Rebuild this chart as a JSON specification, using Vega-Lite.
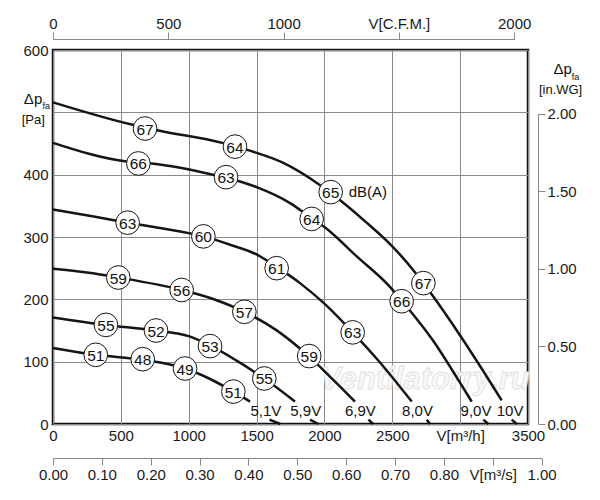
{
  "$schema": "https://vega.github.io/schema/vega-lite/v6.json",
  "description": "Fan curves: static pressure vs air volume at six control voltages",
  "width": 475,
  "height": 374,
  "autosize": "none",
  "padding": {"left": 53, "top": 50, "right": 72, "bottom": 76},
  "config": {
    "font": "Liberation Sans",
    "view": {"stroke": "#111111", "strokeWidth": 2.5},
    "axis": {"labelFont": "Liberation Sans", "labelFontSize": 15, "labelColor": "#1a1a1a", "title": null, "labelFlush": false, "labelOverlap": false}
  },
  "datasets": {
    "curves": [
      {"seg": "10V-a", "q": 0, "p": 516}, {"seg": "10V-a", "q": 587, "p": 480}, {"seg": "10V-a", "q": 776, "p": 471},
      {"seg": "10V-a", "q": 1248, "p": 451}, {"seg": "10V-a", "q": 1444, "p": 439},
      {"seg": "10V-a", "q": 1697, "p": 419}, {"seg": "10V-a", "q": 1955, "p": 385}, {"seg": "10V-a", "q": 2046, "p": 370},
      {"seg": "10V-a", "q": 2127, "p": 357}, {"seg": "10V-a", "q": 2300, "p": 325}, {"seg": "10V-a", "q": 2500, "p": 285},
      {"seg": "10V-a", "q": 2643, "p": 250}, {"seg": "10V-a", "q": 2729, "p": 226}, {"seg": "10V-a", "q": 2790, "p": 208},
      {"seg": "10V-a", "q": 3000, "p": 142}, {"seg": "10V-a", "q": 3306, "p": 38},
      {"seg": "10V-b", "q": 3380, "p": 7}, {"seg": "10V-b", "q": 3417, "p": 0},

      {"seg": "9V-a", "q": 0, "p": 451}, {"seg": "9V-a", "q": 543, "p": 421}, {"seg": "9V-a", "q": 727, "p": 418},
      {"seg": "9V-a", "q": 1179, "p": 400}, {"seg": "9V-a", "q": 1378, "p": 389}, {"seg": "9V-a", "q": 1500, "p": 380},
      {"seg": "9V-a", "q": 1750, "p": 354}, {"seg": "9V-a", "q": 1906, "p": 330}, {"seg": "9V-a", "q": 2000, "p": 316},
      {"seg": "9V-a", "q": 2238, "p": 269}, {"seg": "9V-a", "q": 2483, "p": 220}, {"seg": "9V-a", "q": 2569, "p": 198},
      {"seg": "9V-a", "q": 2800, "p": 134}, {"seg": "9V-a", "q": 3000, "p": 66}, {"seg": "9V-a", "q": 3085, "p": 36},
      {"seg": "9V-b", "q": 3171, "p": 7}, {"seg": "9V-b", "q": 3208, "p": 0},

      {"seg": "8V-a", "q": 0, "p": 344}, {"seg": "8V-a", "q": 300, "p": 333}, {"seg": "8V-a", "q": 550, "p": 323},
      {"seg": "8V-a", "q": 800, "p": 314}, {"seg": "8V-a", "q": 1108, "p": 301}, {"seg": "8V-a", "q": 1300, "p": 288},
      {"seg": "8V-a", "q": 1500, "p": 272}, {"seg": "8V-a", "q": 1648, "p": 252}, {"seg": "8V-a", "q": 1820, "p": 226},
      {"seg": "8V-a", "q": 2000, "p": 193}, {"seg": "8V-a", "q": 2208, "p": 147}, {"seg": "8V-a", "q": 2400, "p": 101},
      {"seg": "8V-a", "q": 2643, "p": 36},
      {"seg": "8V-b", "q": 2754, "p": 7}, {"seg": "8V-b", "q": 2778, "p": 0},

      {"seg": "6.9V-a", "q": 0, "p": 249}, {"seg": "6.9V-a", "q": 250, "p": 243}, {"seg": "6.9V-a", "q": 481, "p": 235},
      {"seg": "6.9V-a", "q": 948, "p": 215}, {"seg": "6.9V-a", "q": 1200, "p": 199}, {"seg": "6.9V-a", "q": 1410, "p": 180},
      {"seg": "6.9V-a", "q": 1643, "p": 151}, {"seg": "6.9V-a", "q": 1888, "p": 108}, {"seg": "6.9V-a", "q": 2050, "p": 74},
      {"seg": "6.9V-a", "q": 2225, "p": 36},
      {"seg": "6.9V-b", "q": 2324, "p": 7}, {"seg": "6.9V-b", "q": 2360, "p": 0},

      {"seg": "5.9V-a", "q": 0, "p": 171}, {"seg": "5.9V-a", "q": 390, "p": 159}, {"seg": "5.9V-a", "q": 759, "p": 150},
      {"seg": "5.9V-a", "q": 1000, "p": 141}, {"seg": "5.9V-a", "q": 1157, "p": 126}, {"seg": "5.9V-a", "q": 1350, "p": 102},
      {"seg": "5.9V-a", "q": 1557, "p": 73}, {"seg": "5.9V-a", "q": 1783, "p": 36},
      {"seg": "5.9V-b", "q": 1894, "p": 7}, {"seg": "5.9V-b", "q": 1955, "p": 0},

      {"seg": "5.1V-a", "q": 0, "p": 122}, {"seg": "5.1V-a", "q": 315, "p": 111}, {"seg": "5.1V-a", "q": 661, "p": 103},
      {"seg": "5.1V-a", "q": 973, "p": 89}, {"seg": "5.1V-a", "q": 1150, "p": 73}, {"seg": "5.1V-a", "q": 1329, "p": 52},
      {"seg": "5.1V-a", "q": 1452, "p": 36},
      {"seg": "5.1V-b", "q": 1595, "p": 7}, {"seg": "5.1V-b", "q": 1675, "p": 0}
    ],
    "levels": [
      {"q": 678, "p": 474, "t": "67"}, {"q": 1341, "p": 445, "t": "64"}, {"q": 2046, "p": 372, "t": "65"}, {"q": 2729, "p": 226, "t": "67"},
      {"q": 629, "p": 418, "t": "66"}, {"q": 1275, "p": 396, "t": "63"}, {"q": 1906, "p": 329, "t": "64"}, {"q": 2569, "p": 197, "t": "66"},
      {"q": 550, "p": 323, "t": "63"}, {"q": 1108, "p": 301, "t": "60"}, {"q": 1648, "p": 250, "t": "61"}, {"q": 2208, "p": 147, "t": "63"},
      {"q": 481, "p": 235, "t": "59"}, {"q": 948, "p": 215, "t": "56"}, {"q": 1410, "p": 180, "t": "57"}, {"q": 1888, "p": 109, "t": "59"},
      {"q": 390, "p": 159, "t": "55"}, {"q": 759, "p": 150, "t": "52"}, {"q": 1157, "p": 125, "t": "53"}, {"q": 1557, "p": 73, "t": "55"},
      {"q": 315, "p": 111, "t": "51"}, {"q": 661, "p": 104, "t": "48"}, {"q": 973, "p": 89, "t": "49"}, {"q": 1329, "p": 52, "t": "51"}
    ],
    "notes": [
      {"kind": "big", "q": 1568, "p": 13, "t": "5,1V"},
      {"kind": "big", "q": 1862, "p": 13, "t": "5,9V"},
      {"kind": "big", "q": 2265, "p": 13, "t": "6,9V"},
      {"kind": "big", "q": 2686, "p": 13, "t": "8,0V"},
      {"kind": "big", "q": 3117, "p": 13, "t": "9,0V"},
      {"kind": "big", "q": 3368, "p": 13, "t": "10V"},
      {"kind": "big", "q": 2320, "p": 364, "t": "dB(A)"},
      {"kind": "sym", "q": -147, "p": 513, "t": "Δp"},
      {"kind": "sym", "q": 3755, "p": 561, "t": "Δp"},
      {"kind": "sub", "q": -49, "p": 505, "t": "fa"},
      {"kind": "sub", "q": 3850, "p": 552, "t": "fa"},
      {"kind": "unit", "q": -145, "p": 481, "t": "[Pa]"},
      {"kind": "unit", "q": 3740, "p": 529, "t": "[in.WG]"}
    ]
  },
  "layer": [
    {
      "encoding": {
        "x": {
          "field": "q", "type": "quantitative",
          "scale": {"domain": [0, 3500], "nice": false, "zero": false},
          "axis": {
            "orient": "bottom",
            "values": [0, 500, 1000, 1500, 2000, 2500, 3000, 3500],
            "format": "d",
            "labelExpr": "datum.value == 3000 ? 'V[m³/h]' : datum.label",
            "ticks": false, "domain": false, "labelPadding": 4,
            "grid": true, "gridColor": "#8a8a8a", "gridWidth": 1
          }
        },
        "y": {
          "field": "p", "type": "quantitative",
          "scale": {"domain": [0, 600], "nice": false, "zero": false},
          "axis": {
            "orient": "left",
            "values": [0, 100, 200, 300, 400, 500, 600],
            "format": "d",
            "labelExpr": "datum.value == 500 ? '' : datum.label",
            "ticks": false, "domain": false, "labelPadding": 5,
            "grid": true, "gridColor": "#8a8a8a", "gridWidth": 1
          }
        }
      },
      "layer": [
        {
          "data": {"values": [{"q": 2741, "p": 56, "t": "Ventilatorry.ru"}]},
          "mark": {"type": "text", "fontSize": 31, "fontStyle": "italic", "fontWeight": "bold", "fill": "#f8f8f8", "stroke": "#e0e0e0", "strokeWidth": 0.8, "align": "center", "baseline": "alphabetic"},
          "encoding": {"text": {"field": "t"}}
        },
        {
          "data": {"name": "curves"},
          "mark": {"type": "line", "color": "#151515", "strokeWidth": 2.5, "interpolate": "monotone"},
          "encoding": {"detail": {"field": "seg"}}
        },
        {
          "data": {"name": "levels"},
          "mark": {"type": "point", "shape": "circle", "filled": true, "fill": "white", "stroke": "#151515", "strokeWidth": 1, "size": 560, "opacity": 1}
        },
        {
          "data": {"name": "levels"},
          "mark": {"type": "text", "fontSize": 15.5, "color": "#111111", "align": "center", "baseline": "middle", "dy": 1},
          "encoding": {"text": {"field": "t"}}
        },
        {
          "data": {"name": "notes"},
          "transform": [{"filter": "datum.kind == 'big'"}],
          "mark": {"type": "text", "fontSize": 15, "color": "#111111", "align": "center", "baseline": "alphabetic"},
          "encoding": {"text": {"field": "t"}}
        },
        {
          "data": {"name": "notes"},
          "transform": [{"filter": "datum.kind == 'sym'"}],
          "mark": {"type": "text", "fontSize": 15, "color": "#111111", "align": "center", "baseline": "alphabetic"},
          "encoding": {"text": {"field": "t"}}
        },
        {
          "data": {"name": "notes"},
          "transform": [{"filter": "datum.kind == 'sub'"}],
          "mark": {"type": "text", "fontSize": 9, "color": "#111111", "align": "center", "baseline": "alphabetic"},
          "encoding": {"text": {"field": "t"}}
        },
        {
          "data": {"name": "notes"},
          "transform": [{"filter": "datum.kind == 'unit'"}],
          "mark": {"type": "text", "fontSize": 13, "color": "#111111", "align": "center", "baseline": "alphabetic"},
          "encoding": {"text": {"field": "t"}}
        }
      ]
    },
    {
      "data": {"values": [{"s": 0}, {"s": 1}]},
      "mark": {"type": "point", "opacity": 0},
      "encoding": {
        "x": {
          "field": "s", "type": "quantitative",
          "scale": {"domain": [0, 1], "range": [0, 488.6], "nice": false, "zero": false},
          "axis": {
            "orient": "bottom", "offset": 34,
            "values": [0, 0.1, 0.2, 0.3, 0.4, 0.5, 0.6, 0.7, 0.8, 0.9, 1],
            "format": ".2f",
            "labelExpr": "datum.value == 0.9 ? 'V[m³/s]' : datum.label",
            "domainColor": "#888888", "tickColor": "#888888", "tickSize": 7, "labelPadding": 2, "grid": false
          }
        }
      }
    },
    {
      "data": {"values": [{"c": 0}, {"c": 2000}]},
      "mark": {"type": "point", "opacity": 0},
      "encoding": {
        "x": {
          "field": "c", "type": "quantitative",
          "scale": {"domain": [0, 2000], "range": [0, 461.2], "nice": false, "zero": false},
          "axis": {
            "orient": "top", "offset": 11,
            "values": [0, 500, 1000, 1500, 2000],
            "format": "d",
            "labelExpr": "datum.value == 1500 ? 'V[C.F.M.]' : datum.label",
            "domainColor": "#888888", "tickColor": "#888888", "tickSize": 7, "labelPadding": 1, "grid": false
          }
        }
      }
    },
    {
      "data": {"values": [{"w": 0}, {"w": 2}]},
      "mark": {"type": "point", "opacity": 0},
      "encoding": {
        "y": {
          "field": "w", "type": "quantitative",
          "scale": {"domain": [0, 2], "range": [374, 63.5], "nice": false, "zero": false},
          "axis": {
            "orient": "right", "offset": 10,
            "values": [0, 0.5, 1, 1.5, 2],
            "format": ".2f",
            "domainColor": "#888888", "tickColor": "#888888", "tickSize": 7, "labelPadding": 2, "grid": false
          }
        }
      }
    }
  ],
  "resolve": {"scale": {"x": "independent", "y": "independent"}}
}
